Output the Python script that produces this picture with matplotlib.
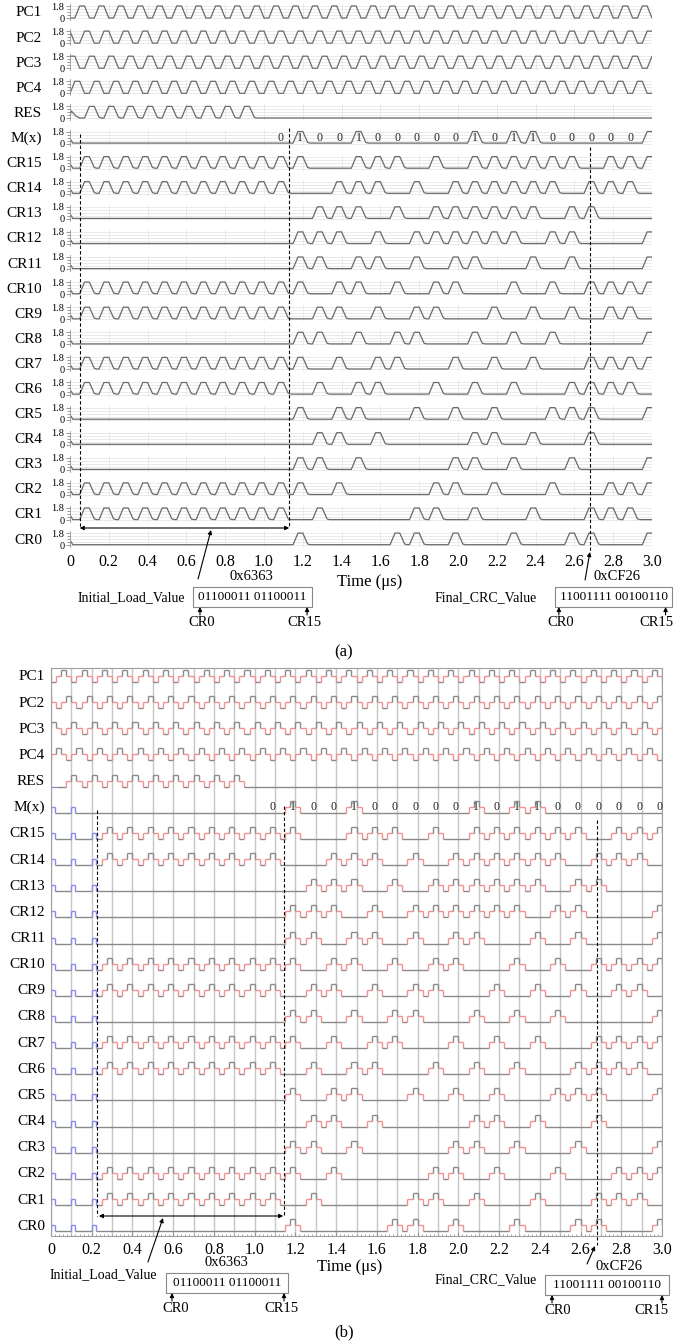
import matplotlib.pyplot as plt
from matplotlib.collections import LineCollection
from matplotlib.patches import Rectangle
from matplotlib.ticker import MultipleLocator

plt.rcParams["font.family"] = ["Liberation Serif", "DejaVu Serif"]

W, H = 674, 1343  # output size in px (dpi 100)

ROWS = ["PC1", "PC2", "PC3", "PC4", "RES", "M(x)",
        "CR15", "CR14", "CR13", "CR12", "CR11", "CR10", "CR9", "CR8",
        "CR7", "CR6", "CR5", "CR4", "CR3", "CR2", "CR1", "CR0"]

CYCLE = 0.1  # us per clock cycle
# start of the rising edge inside each cycle
PHASE = {"PC1": 0.025, "PC2": 0.05, "PC3": 0.075, "PC4": 0.0, "RES": 0.075}
DATA_PHASE = 0.05  # M(x) and the CR registers

# one character per clock cycle
CLOCK_BITS = "11111111111111111111111111111111"  # cycles -1 .. 30
RES_BITS = "111111111000000000000000000000"      # cycles 0 .. 29
M_BITS_A = "000000000001001000001011000001"
M_BITS_B = "000000000001001000001011000000"
M_LABEL_CYCLES_A = (10, 29)
M_LABEL_CYCLES_B = (10, 30)

# load (cycles 0-10) | CRC shifting (11-26) | tail (27-29)
CR_BITS = {
    "CR15": "11111111111" "1001110101111110" "111",
    "CR14": "11111111111" "0011101011111101" "110",
    "CR13": "00000000000" "0111010111111011" "000",
    "CR12": "00000000000" "1110101111110110" "001",
    "CR11": "00000000000" "1101101011001010" "001",
    "CR10": "11111111111" "1011010110010101" "111",
    "CR9":  "11111111111" "0110101100101010" "110",
    "CR8":  "00000000000" "1101011001010100" "001",
    "CR7":  "11111111111" "1010110010101001" "111",
    "CR6":  "11111111111" "0101100101010011" "110",
    "CR5":  "00000000000" "1011001010100111" "001",
    "CR4":  "00000000000" "0110100001101001" "000",
    "CR3":  "00000000000" "1101000011010010" "001",
    "CR2":  "11111111111" "1010000110100100" "111",
    "CR1":  "11111111111" "0100001101001001" "110",
    "CR0":  "00000000000" "1000011010010011" "001",
}
LOAD_START_B = 2          # in (b) the first two cycles are reset pulses
BLUE_CR = [0.0, 0.1, 0.2]
BLUE_M = [0.0, 0.1]

INIT_VALUE = "01100011 01100011"
FINAL_VALUE = "11001111 00100110"
TICKS = [0, 0.2, 0.4, 0.6, 0.8, 1.0, 1.2, 1.4, 1.6, 1.8, 2.0, 2.2, 2.4, 2.6, 2.8, 3.0]
TICK_LABELS = ["0", "0.2", "0.4", "0.6", "0.8", "1.0", "1.2", "1.4", "1.6", "1.8",
               "2.0", "2.2", "2.4", "2.6", "2.8", "3.0"]

GRAY = "#8a8a8a"
RED = "#f09090"
BLUE = "#8a8aee"

fig = plt.figure(figsize=(W / 100, H / 100), dpi=100)


def px_axes(left, top, width, height):
    return fig.add_axes([left / W, 1 - (top + height) / H, width / W, height / H])


def fig_text(x, y, s, **kw):
    fig.text(x / W, 1 - y / H, s, **kw)


def trapezoid(bits, first_rise, lo=0.0, ledge=0.0, start=None):
    t, v = (list(start[0]), list(start[1])) if start else ([-0.2], [lo])
    for j, b in enumerate(bits):
        if b != "1":
            continue
        s = first_rise + CYCLE * j
        t += [s, s + 0.025, s + 0.05, s + 0.075]
        v += [lo, 1.8, 1.8, lo + ledge]
        if ledge:
            t.append(s + 0.088)
            v.append(lo)
    t.append(3.2)
    v.append(lo)
    return t, v


def staircase(bits, first_rise, pre=()):
    plat = [(-0.2, 0.0, GRAY)] + list(pre)
    for j, b in enumerate(bits):
        if b != "1":
            continue
        s = first_rise + CYCLE * j
        plat += [(s, 0.5, RED), (s + 0.025, 1.0, GRAY),
                 (s + 0.05, 0.5, RED), (s + 0.075, 0.0, GRAY)]
    plat.sort(key=lambda p: p[0])
    return plat


def draw_plateaus(ax, plat, base, amp=12):
    segs, cols = [], []
    prev_lev, prev_col = plat[0][1], plat[0][2]
    for k, (t0, lev, col) in enumerate(plat):
        t1 = plat[k + 1][0] if k + 1 < len(plat) else 3.2
        y_prev, y = base - amp * prev_lev, base - amp * lev
        edge = col if lev >= prev_lev else prev_col
        segs.append([(t0, y_prev), (t0, y)])
        cols.append(edge)
        segs.append([(t0, y), (t1, y)])
        cols.append(col)
        prev_lev, prev_col = lev, col
    ax.add_collection(LineCollection(segs, colors=cols, linewidths=1.0))


# ---------------------------------------------------------------- panel (a)
A_LEFT, A_RIGHT = 70, 652
blip = ([0.0, 0.006, 0.014], [0.55, 0.5, 0.06])
for i, name in enumerate(ROWS):
    y0 = 18 + 25.1 * i
    ax = px_axes(A_LEFT, y0 - 14, A_RIGHT - A_LEFT, 16)
    if name.startswith("PC"):
        t, v = trapezoid(CLOCK_BITS, PHASE[name] - CYCLE)
    elif name == "RES":
        t, v = trapezoid(RES_BITS, PHASE["RES"], 0.06, 0.1,
                         ([0.0, 0.008, 0.03, 0.05], [0.5, 1.1, 0.35, 0.06]))
    elif name == "M(x)":
        t, v = trapezoid(M_BITS_A, DATA_PHASE, 0.06, 0.1, blip)
        for j in range(*M_LABEL_CYCLES_A):
            ax.text(DATA_PHASE + 0.0375 + CYCLE * j, 0.8, M_BITS_A[j], ha="center",
                    va="center", fontsize=8.5, color="#222222")
    else:
        t, v = trapezoid(CR_BITS[name], DATA_PHASE, 0.06, 0.1, blip)
    ax.plot(t, v, color="#6a6a6a", lw=0.9)
    ax.set_xlim(0, 3.0)
    ax.set_ylim(-0.3, 2.1)
    ax.set_yticks([0, 1.8], ["0", "1.8"])
    ax.set_yticks([0.45, 0.9, 1.35], minor=True)
    ax.tick_params(axis="y", which="both", direction="out", color="#888888",
                   width=0.6, labelsize=7.5, pad=1)
    ax.tick_params(axis="y", which="major", length=3)
    ax.tick_params(axis="y", which="minor", length=2)
    if name == "CR0":
        ax.set_xticks(TICKS, TICK_LABELS, fontsize=11.5)
        ax.tick_params(axis="x", length=0, pad=5)
    else:
        ax.set_xticks(TICKS)
        ax.tick_params(axis="x", length=0, labelbottom=False)
    ax.grid(True, axis="x", color="#e6e6e6", lw=0.6)
    ax.grid(True, axis="y", which="both", color="#e6e6e6", lw=0.6)
    ax.set_axisbelow(True)
    for side in ("top", "right", "bottom"):
        ax.spines[side].set_visible(False)
    ax.spines["left"].set_color("#999999")
    ax.spines["left"].set_linewidth(0.6)
    fig_text(42, y0 - 5, name, ha="right", va="center", fontsize=11)

# ---------------------------------------------------------------- panel (b)
B_LEFT, B_RIGHT, B_TOP, B_BOTTOM = 51, 662, 668, 1236
axb = px_axes(B_LEFT, B_TOP, B_RIGHT - B_LEFT, B_BOTTOM - B_TOP)
axb.set_xlim(0, 3.0)
axb.set_ylim(B_BOTTOM, B_TOP)
for k in range(31):
    axb.axvline(k * CYCLE, color="#c6c6c6", lw=1.0, zorder=0)
for i, name in enumerate(ROWS):
    base = 682 + 26.15 * i
    if name.startswith("PC"):
        plat = staircase(CLOCK_BITS, PHASE[name] - CYCLE)
    elif name == "RES":
        plat = staircase(RES_BITS, PHASE["RES"], [(0.0, 0.0, BLUE), (0.025, 0.0, GRAY)])
    elif name == "M(x)":
        pre = [p for t0 in BLUE_M for p in ((t0, 0.5, BLUE), (t0 + 0.02, 0.0, GRAY))]
        plat = staircase(M_BITS_B, DATA_PHASE, pre)
        for j in range(*M_LABEL_CYCLES_B):
            axb.text(DATA_PHASE + 0.0375 + CYCLE * j, base - 6, M_BITS_B[j], ha="center",
                     va="center", fontsize=8.5, color="#222222")
    else:
        bits = "0" * LOAD_START_B + CR_BITS[name][LOAD_START_B:]
        pre = [p for t0 in BLUE_CR for p in ((t0, 0.5, BLUE), (t0 + 0.02, 0.0, GRAY))]
        plat = staircase(bits, DATA_PHASE, pre)
    draw_plateaus(axb, plat, base)
    fig_text(45, base - 5, name, ha="right", va="center", fontsize=11)

axb.set_yticks([])
axb.set_xticks(TICKS, TICK_LABELS, fontsize=11.5)
axb.xaxis.set_minor_locator(MultipleLocator(0.02))
axb.tick_params(axis="x", which="both", direction="in", color="#999999", pad=4)
axb.tick_params(axis="x", which="major", length=3)
axb.tick_params(axis="x", which="minor", length=1.5)
for sp in axb.spines.values():
    sp.set_color("#a0a0a0")
    sp.set_linewidth(0.8)


# ---------------------------------------------------------------- annotations
def overlay(left, right):
    ov = fig.add_axes([left / W, 0, (right - left) / W, 1])
    ov.set_xlim(0, 3.0)
    ov.set_ylim(H, 0)
    ov.axis("off")
    return ov


def arrow(ov, x0, y0, x1, y1, style="-|>"):
    ov.annotate("", xy=(x1, y1), xytext=(x0, y0), annotation_clip=False,
                arrowprops=dict(arrowstyle=style, color="black", lw=0.8,
                                mutation_scale=6, shrinkA=0, shrinkB=0))


def value_box(ov, x0, x1, top, bits, arrow_x, label_x):
    ov.add_patch(Rectangle((x0, top), x1 - x0, 20, fill=False, ec="#888888",
                           lw=0.8, clip_on=False))
    ov.text((x0 + x1) / 2, top + 10, bits, ha="center", va="center",
            fontsize=9.5, clip_on=False)
    for xa, xl, lab in zip(arrow_x, label_x, ["CR0", "CR15"]):
        arrow(ov, xa, top + 28, xa, top + 20)
        ov.text(xl, top + 36, lab, ha="center", va="center", fontsize=10.5,
                clip_on=False)


def dashed(ov, x, y0, y1):
    ov.plot([x, x], [y0, y1], color="black", lw=0.8, ls=(0, (3, 2)), clip_on=False)


ova = overlay(A_LEFT, A_RIGHT)
dashed(ova, 0.05, 134, 528)
dashed(ova, 1.13, 128, 528)
dashed(ova, 2.68, 147, 552)
arrow(ova, 0.05, 528, 1.13, 528, "<|-|>")
arrow(ova, 0.66, 579, 0.727, 530)
ova.text(0.933, 577, "0x6363", ha="center", va="center", fontsize=10.5)
ova.text(1.546, 582, "Time (μs)", ha="center", va="center", fontsize=12)
ova.text(0.314, 598, "Initial_Load_Value", ha="center", va="center", fontsize=10)
value_box(ova, 0.634, 1.247, 587, INIT_VALUE, [0.67, 1.222], [0.68, 1.21])
arrow(ova, 2.655, 580, 2.68, 552)
ova.text(2.82, 577, "0xCF26", ha="center", va="center", fontsize=10.5)
ova.text(2.144, 598, "Final_CRC_Value", ha="center", va="center", fontsize=10)
value_box(ova, 2.5, 3.105, 587, FINAL_VALUE, [2.52, 3.07], [2.53, 3.025])
ova.text(1.412, 652, "(a)", ha="center", va="center", fontsize=12)

ovb = overlay(B_LEFT, B_RIGHT)
dashed(ovb, 0.225, 810, 1216)
dashed(ovb, 1.145, 806, 1216)
dashed(ovb, 2.68, 820, 1245)
arrow(ovb, 0.235, 1216, 1.14, 1216, "<|-|>")
arrow(ovb, 0.476, 1262, 0.55, 1218)
ovb.text(0.86, 1263, "0x6363", ha="center", va="center", fontsize=10.5)
ovb.text(1.468, 1267, "Time (μs)", ha="center", va="center", fontsize=12)
ovb.text(0.255, 1275, "Initial_Load_Value", ha="center", va="center", fontsize=10)
value_box(ovb, 0.565, 1.164, 1273, INIT_VALUE, [0.594, 1.144], [0.61, 1.13])
arrow(ovb, 2.632, 1264, 2.671, 1246)
ovb.text(2.789, 1267, "0xCF26", ha="center", va="center", fontsize=10.5)
ovb.text(2.136, 1280, "Final_CRC_Value", ha="center", va="center", fontsize=10)
value_box(ovb, 2.425, 3.034, 1275, FINAL_VALUE, [2.46, 3.0], [2.49, 2.95])
ovb.text(1.439, 1332, "(b)", ha="center", va="center", fontsize=12)

fig.savefig("out.png", dpi=100)
